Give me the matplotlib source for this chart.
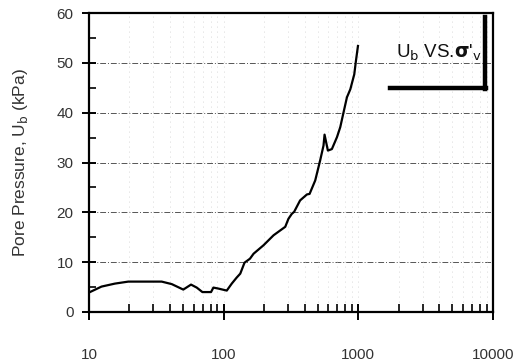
import numpy as np
import matplotlib
matplotlib.use("Agg")
import matplotlib.pyplot as plt
from matplotlib.lines import Line2D
from matplotlib.ticker import FixedLocator, NullFormatter

# Effective vertical stress (kPa) and base pore pressure (kPa)
sigma_v = [10, 12.4, 15.6, 19.6, 34.7, 41.2, 50.2, 57.3, 63.2, 69.6, 80.7, 84,
           91.5, 105.6, 115, 125, 133, 143, 157, 167, 198, 235, 287, 303,
           321, 334, 370, 416, 435, 479, 521, 552, 562, 595, 637, 695, 735,
           778, 824, 873, 934, 961, 995]
u_b = [3.9, 5.1, 5.7, 6.1, 6.1, 5.6, 4.5, 5.5, 4.9, 4.0, 4.0, 4.9,
       4.7, 4.3, 5.7, 6.9, 7.7, 9.9, 10.7, 11.7, 13.4, 15.4, 17.1, 18.7,
       19.7, 20.1, 22.4, 23.6, 23.7, 26.4, 30.4, 33.4, 35.6, 32.4, 32.7, 35.1, 37.1,
       40.1, 43.1, 44.7, 47.7, 50.4, 53.4]

x_major = [10, 100, 1000, 10000]
x_labels = ["10", "100", "1000", "10000"]
y_major = [0, 10, 20, 30, 40, 50, 60]

plt.rcParams['font.family'] = ['Liberation Sans', 'DejaVu Sans']

fig = plt.figure(figsize=(5.14, 3.63), dpi=100)
ax = fig.add_axes([0.173, 0.1405, 0.786, 0.8235])
ax.set_xscale('log')
ax.set_xlim(10, 10000)
ax.set_ylim(0, 60)

# Grid: dash-dot horizontal lines, faint dotted verticals
for y in y_major[1:-1]:
    ax.axhline(y, color='#555555', lw=0.7, ls=(0, (6, 2, 1, 2)), zorder=1)
minors = [m * d for d in (10, 100, 1000) for m in range(2, 10)]
for xv in minors + [100, 1000]:
    ax.axvline(xv, color='#cccccc', lw=0.6, ls=(0, (1, 5)), zorder=1)

ax.plot(sigma_v, u_b, color='black', lw=1.6, zorder=3)

for s in ax.spines.values():
    s.set_linewidth(1.6)
    s.set_color('black')

ax.xaxis.set_major_locator(FixedLocator(x_major))
ax.xaxis.set_minor_locator(FixedLocator(minors))
ax.set_xticklabels(x_labels)
ax.xaxis.set_minor_formatter(NullFormatter())
ax.yaxis.set_major_locator(FixedLocator(y_major))
ax.yaxis.set_minor_locator(FixedLocator([5, 15, 25, 35, 45, 55]))

ax.tick_params(axis='x', which='major', direction='inout', length=12, width=1.4,
               pad=20, labelsize=11, labelcolor='#333333')
ax.tick_params(axis='x', which='minor', direction='in', length=6, width=1.2)
ax.tick_params(axis='y', which='major', direction='inout', length=10, width=1.4,
               pad=6, labelsize=11, labelcolor='#333333')
ax.tick_params(axis='y', which='minor', direction='in', length=5, width=1.2)

ax.set_ylabel('Pore Pressure, U$_\\mathrm{b}$ (kPa)', fontsize=12.5,
              color='#333333', labelpad=19)

# Caption box with heavy right and bottom edges
fig.text(439 / 514, 1 - 53 / 363, "U$_\\mathrm{b}$ VS.$\\mathbf{\\sigma}$'$_\\mathrm{v}$",
         fontsize=13.5, ha='center', va='center', color='#111111')
fig.add_artist(Line2D([390 / 514, 486 / 514], [1 - 88 / 363, 1 - 88 / 363],
                      color='black', lw=3.2, transform=fig.transFigure))
fig.add_artist(Line2D([485 / 514, 485 / 514], [1 - 17 / 363, 1 - 89 / 363],
                      color='black', lw=3.2, transform=fig.transFigure))

fig.savefig('out.png', dpi=100)
